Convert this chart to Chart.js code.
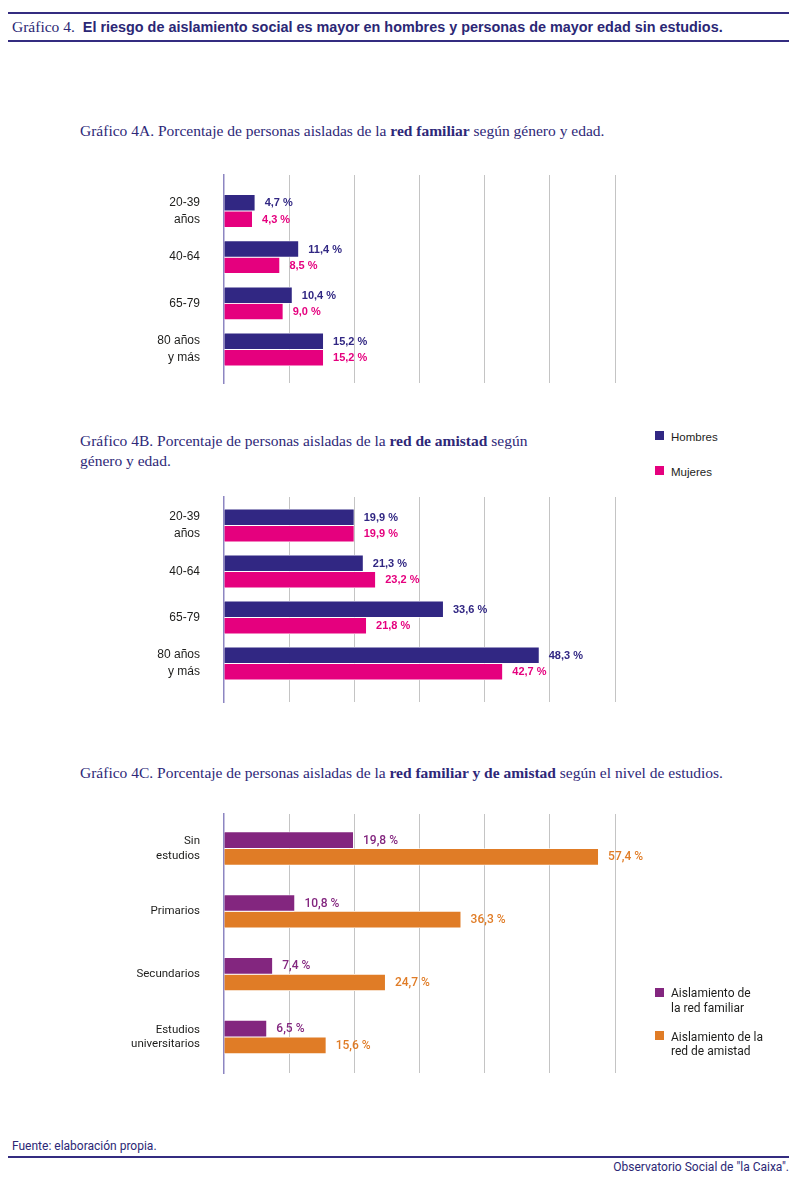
<!DOCTYPE html>
<html lang="es">
<head>
<meta charset="utf-8">
<title>Gráfico 4</title>
<script src="https://cdn.jsdelivr.net/npm/chart.js@4.4.1/dist/chart.umd.min.js"></script>
<style>
  html, body { margin: 0; padding: 0; background: #fff; }
  body { width: 800px; height: 1181px; position: relative; overflow: hidden; }
  .rule { position: absolute; left: 8px; width: 781px; height: 2px; background: #342c80; }
  .serif { position: absolute; font-family: "Liberation Serif", serif; color: #2e2878; font-size: 15.5px; line-height: 20px; white-space: nowrap; }
  .serif b { font-weight: bold; }
  .head { position: absolute; left: 12px; top: 18px; white-space: nowrap; color: #2b2775; }
  .head .num { font-family: "Liberation Serif", serif; font-size: 15.5px; }
  .head .tit { font-family: "Liberation Sans", Arial, sans-serif; font-weight: bold; font-size: 14.4px; margin-left: 8px; }
  .foot { position: absolute; font-family: "Roboto", sans-serif; font-size: 12px; color: #2b2775; white-space: nowrap; }
  .legend { position: absolute; left: 655px; }
  .legend .item { position: absolute; left: 0; white-space: nowrap; color: #1d1d1b; }
  .legend .sw { position: absolute; left: 0; width: 9px; height: 9px; }
  .legend .txt { position: absolute; left: 16px; }
  canvas { position: absolute; left: 0; }
</style>
</head>
<body>

<div class="rule" style="top:12px"></div>
<div class="head"><span class="num">Gráfico 4.</span><span class="tit">El riesgo de aislamiento social es mayor en hombres y personas de mayor edad sin estudios.</span></div>
<div class="rule" style="top:40px"></div>

<div class="serif" style="left:80px; top:121px">Gráfico 4A. Porcentaje de personas aisladas de la <b>red familiar</b> según género y edad.</div>
<canvas id="chartA" width="700" height="230" style="top:165px"></canvas>

<div class="serif" style="left:80px; top:431px">Gráfico 4B. Porcentaje de personas aisladas de la <b>red de amistad</b> según<br>género y edad.</div>
<div id="legendAB" class="legend" style="top:430px"></div>
<canvas id="chartB" width="700" height="225" style="top:487px"></canvas>

<div class="serif" style="left:80px; top:763px">Gráfico 4C. Porcentaje de personas aisladas de la <b>red familiar y de amistad</b> según el nivel de estudios.</div>
<canvas id="chartC" width="700" height="280" style="top:804px"></canvas>
<div id="legendC" class="legend" style="top:986px"></div>

<div class="foot" style="left:12px; top:1139px">Fuente: elaboración propia.</div>
<div class="rule" style="top:1156px"></div>
<div class="foot" style="right:11px; top:1160px">Observatorio Social de "la Caixa".</div>

<script>
// categorías y valores (%)
const edades = [['20-39', 'años'], '40-64', '65-79', ['80 años', 'y más']];
const generos = ['Hombres', 'Mujeres'];
const familiarHombres = [4.7, 11.4, 10.4, 15.2];
const familiarMujeres = [4.3, 8.5, 9.0, 15.2];
const amistadHombres = [19.9, 21.3, 33.6, 48.3];
const amistadMujeres = [19.9, 23.2, 21.8, 42.7];

const estudios = [['Sin', 'estudios'], 'Primarios', 'Secundarios', ['Estudios', 'universitarios']];
const tiposRed = [['Aislamiento de', 'la red familiar'], ['Aislamiento de la', 'red de amistad']];
const estudiosFamiliar = [19.8, 10.8, 7.4, 6.5];
const estudiosAmistad = [57.4, 36.3, 24.7, 15.6];

const xMin = 0, xMax = 60, xStep = 10;

const NAVY = '#312783', MAGENTA = '#e5007e', PURPLE = '#83267f', ORANGE = '#e07c26';
const GRID = '#c4c4c4', AXIS = '#8d86c2', INK = '#1d1d1b';

Chart.defaults.font.family = '"Liberation Sans", Arial, sans-serif';
Chart.defaults.animation = false;

const fmt = v => v.toFixed(1).replace('.', ',') + ' %';

// etiquetas de valor al final de cada barra
const valueLabels = {
  id: 'valueLabels',
  afterDatasetsDraw(chart, args, opts) {
    const ctx = chart.ctx;
    ctx.save();
    ctx.font = opts.font;
    ctx.textBaseline = 'middle';
    chart.data.datasets.forEach((ds, i) => {
      ctx.fillStyle = ds.backgroundColor;
      chart.getDatasetMeta(i).data.forEach((bar, j) => {
        ctx.fillText(fmt(ds.data[j].x), bar.x + opts.offset, bar.y + 0.5);
      });
    });
    ctx.restore();
  }
};

function makeChart(id, cats, names, values, colors, cfg) {
  new Chart(document.getElementById(id), {
    type: 'bar',
    data: {
      datasets: values.map((vals, k) => ({
        label: names[k],
        data: vals.map((v, i) => ({ x: v, y: i })),
        backgroundColor: colors[k],
        borderColor: '#ffffff',
        borderWidth: { top: 0.8, bottom: 0.8, left: 0, right: 0 },
        borderSkipped: false,
        barThickness: cfg.barThickness
      }))
    },
    options: {
      indexAxis: 'y',
      responsive: false,
      devicePixelRatio: 1,
      layout: { padding: cfg.padding },
      plugins: {
        legend: { display: false },
        tooltip: { enabled: false },
        valueLabels: { font: cfg.valueFont, offset: 10 }
      },
      scales: {
        x: {
          type: 'linear',
          min: xMin, max: xMax,
          ticks: { display: false, stepSize: xStep },
          border: { display: false },
          grid: {
            drawTicks: false,
            color: c => c.tick.value === 0 ? 'rgba(0,0,0,0)' : GRID,
            lineWidth: 1
          },
          afterFit: s => { s.height = 0; s.paddingLeft = 0; s.paddingRight = 0; }
        },
        y: {
          type: 'linear',
          reverse: true,
          offset: false,
          bounds: 'data',
          min: cfg.yMin, max: cfg.yMax,
          afterBuildTicks: s => { s.ticks = cats.map((c, i) => ({ value: i })); },
          afterFit: s => { s.width = 224; s.paddingTop = 0; s.paddingBottom = 0; },
          ticks: {
            callback: v => cats[v],
            color: INK,
            font: cfg.tickFont,
            padding: cfg.tickPad
          },
          grid: { display: false },
          border: { display: true, color: AXIS, width: 1.5 }
        }
      }
    },
    plugins: [valueLabels]
  });
}

makeChart('chartA', edades, generos, [familiarHombres, familiarMujeres], [NAVY, MAGENTA], {
  padding: { top: 10, bottom: 12, right: 85, left: 0 },
  yMin: -0.78, yMax: 3.725, barThickness: 16.4,
  tickFont: { size: 12, lineHeight: 1.4 }, tickPad: 16,
  valueFont: 'bold 11px "Liberation Sans", Arial, sans-serif'
});

makeChart('chartB', edades, generos, [amistadHombres, amistadMujeres], [NAVY, MAGENTA], {
  padding: { top: 10, bottom: 10, right: 85, left: 0 },
  yMin: -0.62, yMax: 3.837, barThickness: 16.4,
  tickFont: { size: 12, lineHeight: 1.4 }, tickPad: 16,
  valueFont: 'bold 11px "Liberation Sans", Arial, sans-serif'
});

makeChart('chartC', estudios, tiposRed.map(t => t.join(' ')), [estudiosFamiliar, estudiosAmistad], [PURPLE, ORANGE], {
  padding: { top: 10, bottom: 11, right: 85, left: 0 },
  yMin: -0.549, yMax: 3.573, barThickness: 16.6,
  tickFont: { family: 'Roboto, sans-serif', size: 11.5, lineHeight: 1.25 }, tickPad: 16,
  valueFont: '500 12px Roboto, sans-serif'
});

// leyendas
function buildLegend(id, names, colors, opts) {
  const box = document.getElementById(id);
  names.forEach((n, k) => {
    const lines = Array.isArray(n) ? n : [n];
    const item = document.createElement('div');
    item.className = 'item';
    item.style.top = (k * opts.gap) + 'px';
    item.style.font = opts.font;
    item.style.lineHeight = opts.lineHeight + 'px';
    const sw = document.createElement('div');
    sw.className = 'sw';
    sw.style.background = colors[k];
    sw.style.top = opts.swTop + 'px';
    const txt = document.createElement('div');
    txt.className = 'txt';
    txt.innerHTML = lines.join('<br>');
    item.appendChild(sw);
    item.appendChild(txt);
    box.appendChild(item);
  });
}

buildLegend('legendAB', generos, [NAVY, MAGENTA], { gap: 35, font: '11.5px "Liberation Sans", Arial, sans-serif', lineHeight: 14, swTop: 1 });
buildLegend('legendC', tiposRed, [PURPLE, ORANGE], { gap: 43.5, font: '12px Roboto, sans-serif', lineHeight: 14.5, swTop: 1.5 });
</script>
</body>
</html>
